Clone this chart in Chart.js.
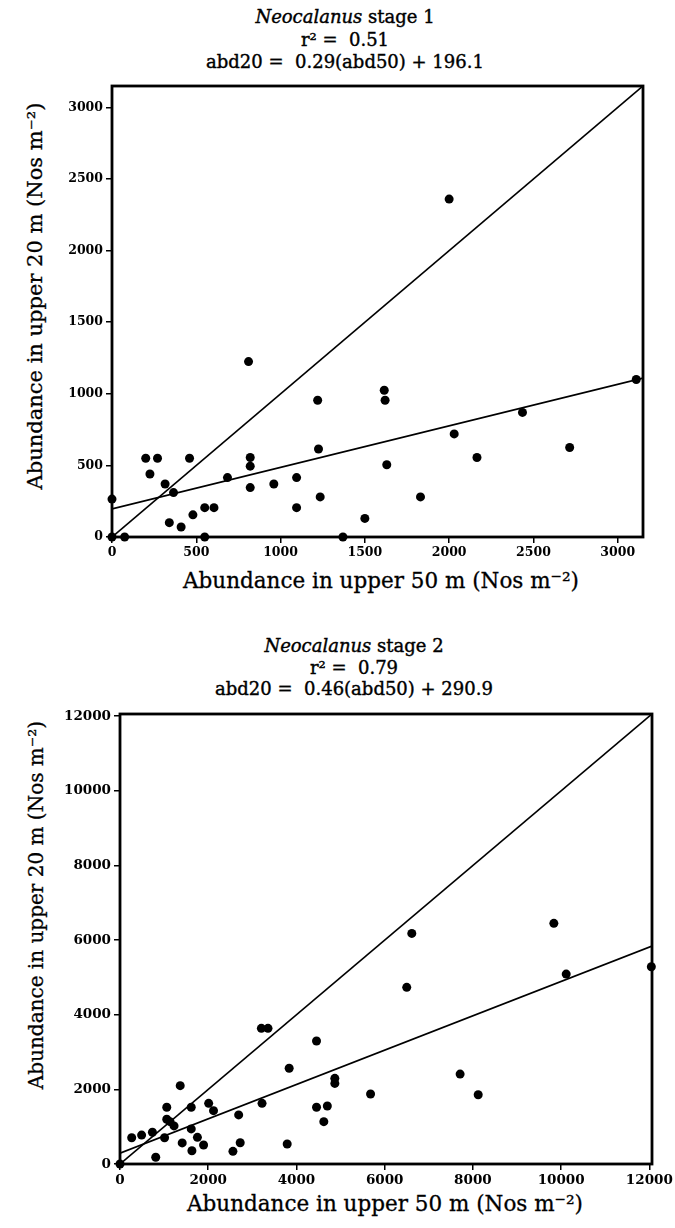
<!DOCTYPE html>
<html><head><meta charset="utf-8">
<script src="https://cdn.jsdelivr.net/npm/chart.js@4"></script>
<style>
html,body{margin:0;padding:0;background:#fff;}
body{width:675px;height:1228px;position:relative;overflow:hidden;font-family:"DejaVu Serif",serif;color:#000;}
canvas{position:absolute;left:0;}
.title{position:absolute;left:0;text-align:center;font-size:18px;line-height:22.5px;white-space:nowrap;-webkit-text-stroke:0.4px #000;}
.ylab{position:absolute;font-size:21px;white-space:nowrap;transform:translate(-50%,-50%) rotate(-90deg);-webkit-text-stroke:0.3px #000;}
.xlab{position:absolute;font-size:21.5px;white-space:nowrap;transform:translate(-50%,-50%);-webkit-text-stroke:0.3px #000;}
</style></head>
<body>
<div class="title" style="top:6px;width:690px;"><i>Neocalanus</i> stage 1<br>r² =&nbsp; 0.51<br>abd20 =&nbsp; 0.29(abd50) + 196.1</div>
<div class="ylab" style="left:35px;top:296px;">Abundance in upper 20 m (Nos m⁻²)</div>
<div class="xlab" style="left:381px;top:580px;">Abundance in upper 50 m (Nos m⁻²)</div>
<canvas id="c1" width="675" height="600" style="top:0"></canvas>

<div class="title" style="top:635px;width:708px;line-height:21.5px;"><i>Neocalanus</i> stage 2<br>r² =&nbsp; 0.79<br>abd20 =&nbsp; 0.46(abd50) + 290.9</div>
<div class="ylab" style="left:36px;top:905px;font-size:20px;">Abundance in upper 20 m (Nos m⁻²)</div>
<div class="xlab" style="left:385px;top:1203px;">Abundance in upper 50 m (Nos m⁻²)</div>
<canvas id="c2" width="675" height="628" style="top:600px"></canvas>

<script>
// ---- Stage 1 data ----
const stage1X = [0, 0, 75, 200, 270, 225, 460, 315, 365, 340, 410, 480, 550, 605, 550, 685, 810, 820, 820, 820, 960, 1095, 1095, 1220, 1225, 1235, 1370, 1500, 1615, 1620, 1630, 1830, 2000, 2030, 2165, 2435, 2715, 3110];
const stage1Y = [0, 265, 0, 550, 550, 440, 550, 370, 310, 100, 70, 155, 205, 205, 0, 415, 1225, 555, 495, 345, 370, 415, 205, 955, 615, 280, 0, 130, 1025, 955, 505, 280, 2360, 720, 555, 870, 625, 1100];
const stage1Slope = 0.29;
const stage1Intercept = 196.1;
const stage1Ticks = [0, 500, 1000, 1500, 2000, 2500, 3000];
const stage1Max = 3150;

// ---- Stage 2 data ----
const stage2X = [0, 265, 490, 735, 810, 1010, 1060, 1060, 1135, 1225, 1365, 1410, 1615, 1615, 1630, 1755, 1895, 2010, 2120, 2560, 2690, 2725, 3220, 3205, 3355, 3790, 3835, 4455, 4455, 4700, 4620, 4870, 4870, 5680, 6500, 6615, 7710, 8120, 9835, 10115, 12045];
const stage2Y = [0, 705, 775, 850, 180, 705, 1520, 1200, 1135, 1020, 2100, 565, 1520, 940, 355, 715, 510, 1625, 1430, 340, 1315, 570, 1625, 3635, 3635, 535, 2565, 3295, 1520, 1555, 1135, 2295, 2160, 1875, 4735, 6180, 2410, 1855, 6450, 5090, 5285];
const stage2Slope = 0.46;
const stage2Intercept = 290.9;
const stage2Ticks = [0, 2000, 4000, 6000, 8000, 10000, 12000];
const stage2Max = 12060;

const framePlugin = {
  id: 'frame',
  afterDatasetsDraw(chart) {
    const {ctx, chartArea: {left, top, right, bottom}} = chart;
    ctx.save();
    ctx.strokeStyle = '#000';
    ctx.lineWidth = 2.8;
    ctx.strokeRect(left, top, right - left, bottom - top);
    ctx.restore();
  }
};

function makeChart(id, xs, ys, slope, intercept, ticks, maxV, pad, yWidth, xHeight, tickSize) {
  const pts = xs.map((x, i) => ({x: x, y: ys[i]}));
  const tickFont = {family: '"DejaVu Serif", serif', size: tickSize, weight: 'bold'};
  const gridOpts = {display: true, drawOnChartArea: false, drawTicks: true, tickLength: 6, color: '#000', lineWidth: 1.5};
  return new Chart(document.getElementById(id), {
    type: 'scatter',
    data: {
      datasets: [
        {data: [{x: 0, y: 0}, {x: maxV, y: maxV}], showLine: true, borderColor: '#000', borderWidth: 1.7, pointRadius: 0, fill: false},
        {data: [{x: 0, y: intercept}, {x: maxV, y: slope * maxV + intercept}], showLine: true, borderColor: '#000', borderWidth: 1.7, pointRadius: 0, fill: false},
        {data: pts, showLine: false, pointRadius: 4.5, pointBackgroundColor: '#000', pointBorderWidth: 0, clip: false}
      ]
    },
    options: {
      responsive: false,
      animation: false,
      devicePixelRatio: 1,
      layout: {padding: pad},
      plugins: {legend: {display: false}, tooltip: {enabled: false}},
      scales: {
        x: {
          type: 'linear', min: 0, max: maxV,
          afterBuildTicks: s => { s.ticks = ticks.map(v => ({value: v})); },
          afterFit: s => { s.height = xHeight; },
          grid: gridOpts,
          border: {display: false},
          ticks: {font: tickFont, color: '#000', padding: 2, maxRotation: 0, callback: v => String(v)},
          title: {display: false}
        },
        y: {
          type: 'linear', min: 0, max: maxV,
          afterBuildTicks: s => { s.ticks = ticks.map(v => ({value: v})); },
          afterFit: s => { s.width = yWidth; },
          grid: gridOpts,
          border: {display: false},
          ticks: {font: tickFont, color: '#000', padding: 3, callback: v => String(v)},
          title: {display: false}
        }
      }
    },
    plugins: [framePlugin]
  });
}

makeChart('c1', stage1X, stage1Y, stage1Slope, stage1Intercept, stage1Ticks, stage1Max,
  {left: 40, top: 86, right: 32, bottom: 33}, 72, 30, 12.5);
makeChart('c2', stage2X, stage2Y, stage2Slope, stage2Intercept, stage2Ticks, stage2Max,
  {left: 40, top: 114, right: 23, bottom: 34}, 80, 30, 13.5);
</script>
</body></html>
